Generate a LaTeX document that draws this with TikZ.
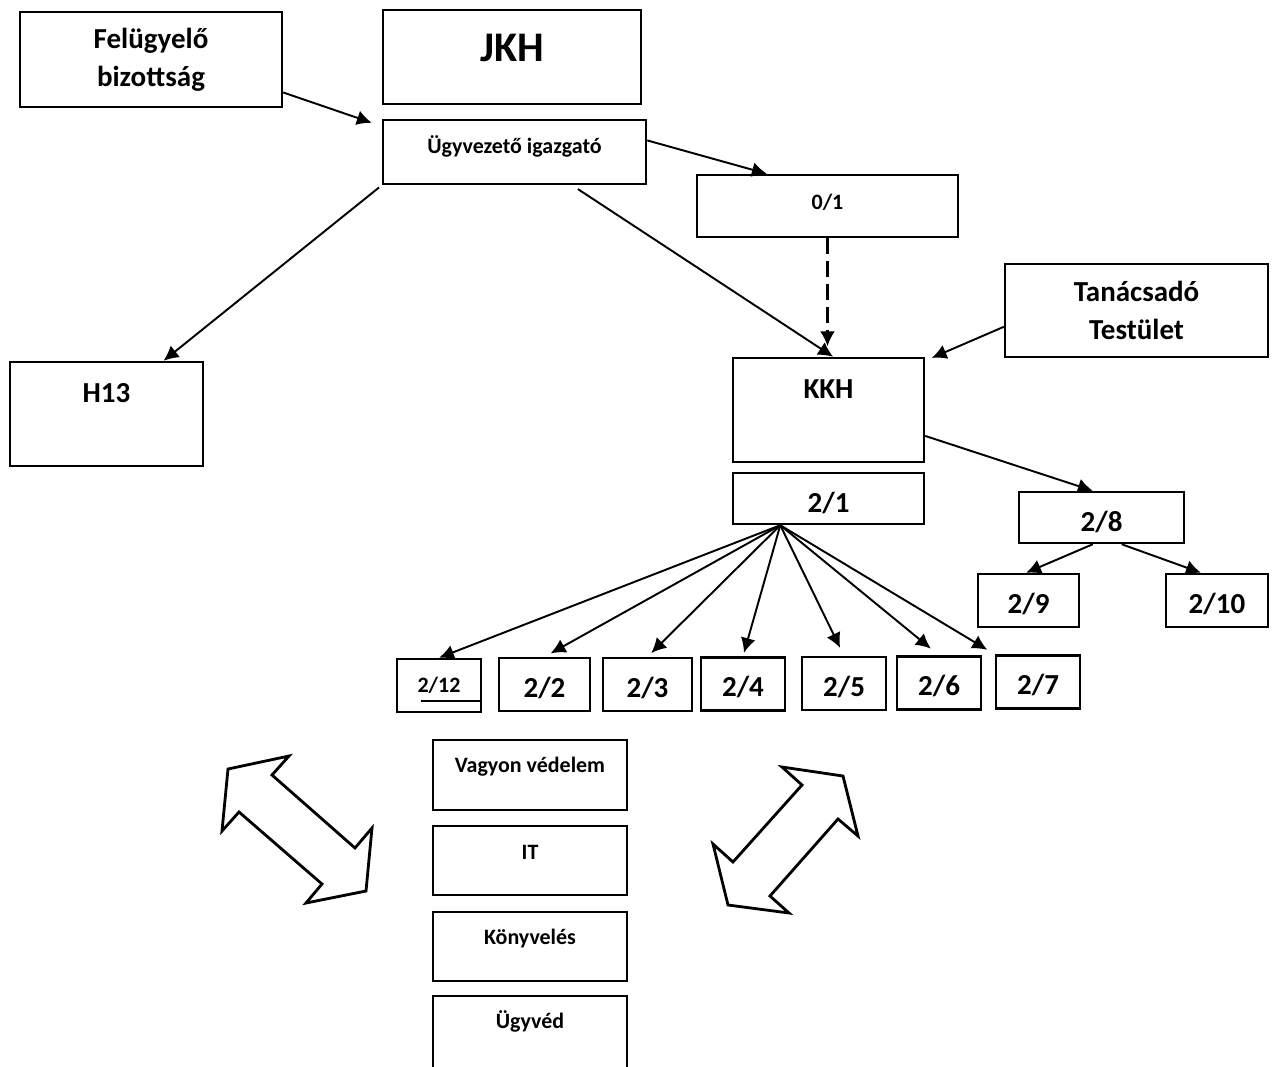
\documentclass[tikz,border=0pt]{standalone}
\usepackage{fontspec}
\setmainfont{Carlito}
\usetikzlibrary{arrows.meta,calc}

\begin{document}
\begin{tikzpicture}[x=0.02cm,y=-0.02cm,
  box/.style={draw, line width=1.4pt, inner sep=0pt, align=center, font=\bfseries\fontsize{16.5}{21.5}\selectfont},
  small/.style={font=\bfseries\fontsize{12.5}{15}\selectfont},
  lift/.style 2 args={text height=#1, text depth=#2},
  arr/.style={-{Latex[length=8.5pt,width=8.5pt]}, line width=1.1pt},
  fat/.style={line width=1.6pt, line join=miter}]
  \useasboundingbox (0,0) rectangle (1275,1066);

  \node[box, minimum width=5.24cm, minimum height=1.9cm] (0) at (151,59.5) {Felügyelő\\bizottság};
  \node[box, minimum width=5.16cm, minimum height=1.88cm, font=\bfseries\fontsize{24}{28}\selectfont, lift={16.8pt}{11.6pt}] (1) at (512,57) {JKH};
  \node[box, small, minimum width=5.26cm, minimum height=1.28cm, lift={8.75pt}{6.5pt}] (2) at (514.5,152) {Ügyvezető igazgató};

  \node[box, small, minimum width=5.22cm, minimum height=1.24cm, lift={8.75pt}{5.3pt}] (3) at (827.5,206) {0/1};
  \node[box, minimum width=5.26cm, minimum height=1.86cm] (4) at (1136.5,310.5) {Tanácsadó\\Testület};

  \node[box, minimum width=3.86cm, minimum height=2.08cm, lift={11.5pt}{25pt}] (5) at (106.5,414) {H13};
  \node[box, minimum width=3.82cm, minimum height=2.08cm, lift={11.5pt}{25pt}] (6) at (828.5,410) {KKH};
  \node[box, minimum width=3.82cm, minimum height=1.02cm, lift={15.5pt}{0pt}] (7) at (828.5,498.5) {2/1};

  \node[box, minimum width=3.3cm, minimum height=1.02cm, lift={15.5pt}{0pt}] (8) at (1101.5,517.5) {2/8};
  \node[box, minimum width=2.02cm, minimum height=1.06cm, lift={14.5pt}{0pt}] (9) at (1028.5,600.5) {2/9};
  \node[box, minimum width=2.04cm, minimum height=1.06cm, lift={14.5pt}{0pt}] (10) at (1217,600.5) {2/10};

  \node[box, small, minimum width=1.68cm, minimum height=1.06cm] (11) at (439,685.5) {2/12};
  \node[box, minimum width=1.82cm, minimum height=1.06cm, lift={14.5pt}{0pt}] (12) at (544.5,684.5) {2/2};
  \node[box, minimum width=1.78cm, minimum height=1.06cm, lift={14.5pt}{0pt}] (13) at (647.5,684.5) {2/3};
  \node[box, minimum width=1.68cm, minimum height=1.06cm, lift={14.5pt}{0pt}] (14) at (743,684) {2/4};
  \node[box, minimum width=1.68cm, minimum height=1.06cm, lift={14.5pt}{0pt}] (15) at (844,683.5) {2/5};
  \node[box, minimum width=1.68cm, minimum height=1.06cm, lift={14.5pt}{0pt}] (16) at (939,683) {2/6};
  \node[box, minimum width=1.68cm, minimum height=1.06cm, lift={14.5pt}{0pt}] (17) at (1038,682) {2/7};

  \node[box, small, minimum width=3.88cm, minimum height=1.4cm, lift={8.75pt}{12.1pt}] (18) at (530,775) {Vagyon védelem};
  \node[box, small, minimum width=3.88cm, minimum height=1.38cm, lift={8.75pt}{10.4pt}] (19) at (530,860.5) {IT};
  \node[box, small, minimum width=3.88cm, minimum height=1.38cm, lift={8.75pt}{11.6pt}] (20) at (530,946.5) {Könyvelés};
  \node[box, small, minimum width=3.88cm, minimum height=1.48cm, lift={8.75pt}{14.4pt}] (21) at (530,1033) {Ügyvéd};

  \draw[line width=1.2pt] ($(11.south east)+(0,-12)$) -- +(-61,0);

  \draw[arr, shorten >=6pt] (0.-14) -- (2.169);
  \draw[arr] (2.5) -- (3.152);
  \draw[arr, shorten <=2pt] (2.south west) -- (5.43);
  \draw[arr, shorten <=4pt] (2.-30) -- (6.85);
  \draw[arr, line width=1.3pt, dash pattern=on 9pt off 4pt, shorten >=6pt] (3.south) -- (3.south |- 6.north);
  \draw[arr, shorten >=4pt] (4.187) -- (6.27);
  \draw[arr] (6.-15) -- (8.108);
  \draw[arr] (8.252) -- (9.95);
  \draw[arr] (8.-53) -- (10.120);

  \coordinate (fan) at (7.209);
  \draw[arr] (fan) -- (11.north);
  \draw[arr, shorten >=4pt] (fan) -- (12.north);
  \draw[arr, shorten >=3pt] (fan) -- (13.north);
  \draw[arr, shorten >=2pt] (fan) -- (14.north);
  \draw[arr, shorten >=5pt] (fan) -- (15.north);
  \draw[arr, shorten >=6pt] (fan) -- (16.north);
  \draw[arr, shorten >=5pt] (fan) -- (17.north west);

  % double arrows
  \draw[fat] (228,769) -- (289,756) -- (272,775) -- (355,848) -- (372,828)
    -- (366,891) -- (306,903) -- (322,884) -- (239,812) -- (222,831) -- cycle;
  \draw[fat] (843,776) -- (858,836) -- (838,819) -- (770,896) -- (789,913)
    -- (728,905) -- (713,844) -- (733,862) -- (802,785) -- (782,767) -- cycle;
\end{tikzpicture}
\end{document}
